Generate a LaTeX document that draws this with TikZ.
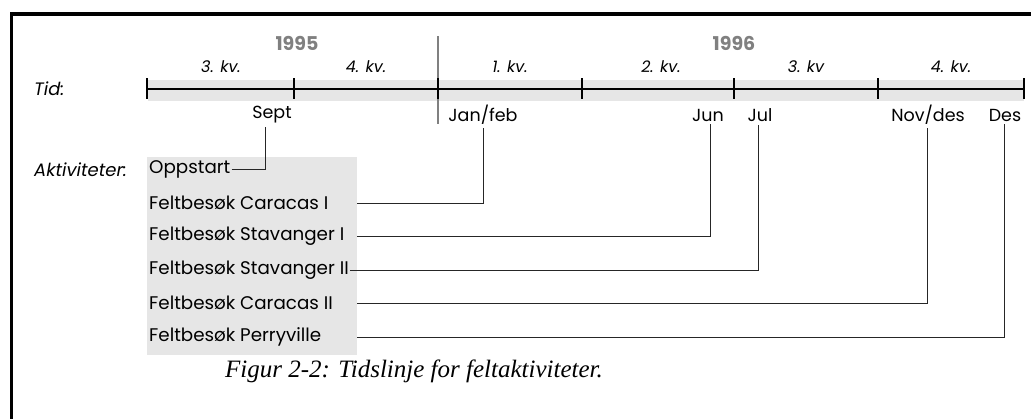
\documentclass[tikz,border=0pt]{standalone}
\usepackage{fontspec}
\setmainfont{Poppins}
\newfontfamily\capfont{Liberation Serif}
\begin{document}
\begin{tikzpicture}[x=1pt,y=-1pt,
  lbl/.style={inner sep=1pt,font=\fontsize{18.3}{21}\selectfont},
  qlbl/.style={inner sep=1pt,font=\fontsize{16}{18}\selectfont\itshape},
  head/.style={inner sep=1pt,anchor=west,font=\fontsize{18}{20}\selectfont\itshape},
  yearlbl/.style={inner sep=1pt,text=yeargrey,font=\fontsize{19}{21}\selectfont\bfseries},
  month/.style={inner sep=3pt,font=\fontsize{17.5}{20}\selectfont},
  act/.style={lbl,anchor=west},
  conn/.style={line width=0.9pt,draw=black!85},
  axis/.style={line width=2.8pt}]
\definecolor{bandgrey}{HTML}{E6E6E6}
\definecolor{yeargrey}{HTML}{808080}
\useasboundingbox (0,0) rectangle (1031,418);
\fill[white] (0,0) rectangle (1031,418);
% outer frame (open to the right and bottom)
\draw[line width=3.2pt] (11.5,420) -- (11.5,14) -- (1033,14);

% timeline band, year divider and axis
\fill[bandgrey] (148,80) rectangle (1024,101);
\draw[yeargrey,line width=2.6pt] (438,36) -- (438,124);
\draw[axis] (147,89) -- (1024,89);
\foreach \x in {147,294,438,582,734,878,1024}
  \draw[axis] (\x,78) -- (\x,99);

% years and quarters
\node[yearlbl] (y95) at (297,43) {1995};
\node[yearlbl] (y96) at (734,43) {1996};
\node[qlbl] (q1) at (221,67) {3. kv.};
\node[qlbl] (q2) at (366,67) {4. kv.};
\node[qlbl] (q3) at (510,67) {1. kv.};
\node[qlbl] (q4) at (661,67) {2. kv.};
\node[qlbl] (q5) at (806,67) {3. kv};
\node[qlbl] (q6) at (951,67) {4. kv.};

% row headings
\node[head] (tid) at (33,89) {Tid:};
\node[head] (akt) at (33,170) {Aktiviteter:};

% months
\node[month] (sept) at (272,115) {Sept};
\node[month] (janfeb) at (483,115) {Jan/feb};
\node[month] (jun) at (708,115) {Jun};
\node[month] (jul) at (760,115) {Jul};
\node[month] (novdes) at (928,115) {Nov/des};
\node[month] (des) at (1005,115) {Des};

% activities
\fill[bandgrey] (147,157) rectangle (357,355);
\coordinate (boxedge) at (357,0);
\node[act] (opp)  at (148,169) {Oppstart};
\node[act] (car1) at (148,203) {Feltbesøk Caracas I};
\node[act] (sta1) at (148,236) {Feltbesøk Stavanger I};
\node[act] (sta2) at (148,270) {Feltbesøk Stavanger II};
\node[act] (car2) at (148,303) {Feltbesøk Caracas II};
\node[act] (per)  at (148,337) {Feltbesøk Perryville};

% connectors from activities to months
\draw[conn] (opp.east) -| ([xshift=-7pt]sept.south);
\draw[conn] (boxedge |- car1) -| (janfeb.south);
\draw[conn] (boxedge |- sta1) -| ([xshift=2pt]jun.south);
\draw[conn] (sta2.east) -| ([xshift=-2pt]jul.south);
\draw[conn] (boxedge |- car2) -| ([xshift=-1pt]novdes.south);
\draw[conn] (boxedge |- per) -| ([xshift=-1pt]des.south);

% caption
\node[inner sep=0pt,font=\capfont\fontsize{25}{28}\selectfont\itshape] (cap) at (414,371) {Figur 2-2: Tidslinje for feltaktiviteter.};
\end{tikzpicture}
\end{document}
